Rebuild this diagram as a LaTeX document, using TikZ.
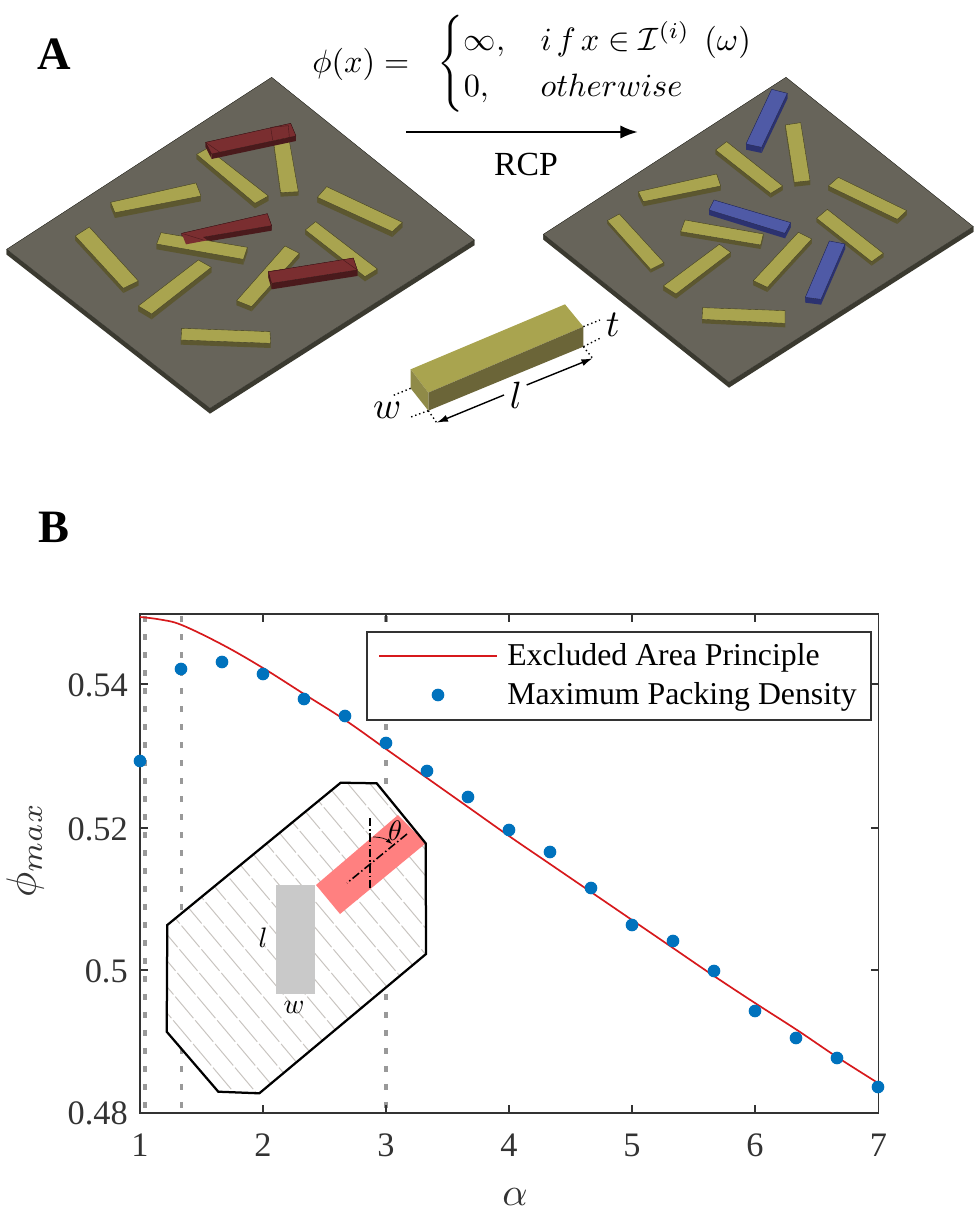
\documentclass[tikz,border=0pt]{standalone}
\usepackage{amsmath}
\usepackage{fontspec}
\setmainfont{Liberation Serif}
\usetikzlibrary{positioning, arrows.meta}
\definecolor{platetop}{HTML}{67645A}
\definecolor{plateside}{HTML}{3B3A30}
\definecolor{yellowtop}{HTML}{A9A44F}
\definecolor{yellowside}{HTML}{5C5730}
\definecolor{yellowend}{HTML}{8F8A48}
\definecolor{barside}{HTML}{6B6538}
\definecolor{redtop}{HTML}{7A2E30}
\definecolor{redside}{HTML}{4A1A1C}
\definecolor{bluetop}{HTML}{4F5AA6}
\definecolor{blueside}{HTML}{2C3270}
\definecolor{dotblue}{HTML}{0072BD}
\definecolor{fitred}{HTML}{D7191C}
\definecolor{axisgray}{HTML}{333333}
\definecolor{guidegray}{HTML}{999999}
\definecolor{hatchgray}{HTML}{C8C4C0}
\definecolor{rectgray}{HTML}{C9C9C9}
\definecolor{rectred}{HTML}{FF8080}
% colour name, four corners of the upper face, drop
\newcommand{\plank}[6]{
\coordinate (p1) at #2; \coordinate (p2) at #3; \coordinate (p3) at #4; \coordinate (p4) at #5;
\begin{scope}[shift={(0,#6)}]
\coordinate (q1) at #2; \coordinate (q2) at #3; \coordinate (q3) at #4; \coordinate (q4) at #5;
\end{scope}
\fill[#1side] (p1) -- (p2) -- (q2) -- (q1) -- cycle;
\fill[#1side] (p2) -- (p3) -- (q3) -- (q2) -- cycle;
\fill[#1side] (p3) -- (p4) -- (q4) -- (q3) -- cycle;
\fill[#1side] (p4) -- (p1) -- (q1) -- (q4) -- cycle;
\fill[#1top, draw=#1side!70!black, line width=0.25pt] (p1) -- (p2) -- (p3) -- (p4) -- cycle;
}
\tikzset{
ticklabel/.style={font=\fontsize{24.4}{28}\selectfont, text=axisgray, inner sep=0pt},
legendtext/.style={font=\fontsize{22.6}{26}\selectfont, inner sep=0pt, anchor=west},
panellabel/.style={font=\fontsize{33}{38}\selectfont\bfseries, inner sep=0pt},
mathlabel/.style={inner sep=0pt, scale=2},
sizelabel/.style={inner sep=0pt, scale=2.7},
overlapline/.style={redside, line width=0.3pt},
sizeline/.style={black, line width=1pt, dotted},
sizearrow/.style={-{Latex[length=8pt,width=5pt]}, black, line width=1pt},
guide/.style={guidegray, line width=2.3pt, dash pattern=on 4.3pt off 8.5pt},
tickmark/.style={axisgray, line width=0.8pt},
datadot/.style={circle, fill=dotblue, inner sep=0pt, minimum size=9pt}
}
\begin{document}
\begin{tikzpicture}[x=0.025cm, y=-0.025cm, >=latex]
\useasboundingbox (0,0) rectangle (975,1208);
\fill[white] (0,0) rectangle (975,1208);

\node (panelA) [panellabel] at (54,54) {A};
\node (panelB) [panellabel] at (54,527) {B};

% left plate
\begin{scope}[shift={(0,60)}, scale=1/3]
\plank{plate}{(815,52)}{(1423,540)}{(630,1045)}{(20,568)}{16}
\plank{yellow}{(332,427)}{(588,369)}{(603,408)}{(345,458)}{16}
\plank{yellow}{(820,240)}{(866,232)}{(895,395)}{(842,398)}{12}
\plank{yellow}{(590,283)}{(622,265)}{(805,408)}{(765,430)}{15}
\plank{red}{(617,247)}{(872,190)}{(888,228)}{(635,282)}{15}
\draw[overlapline] (812,202) -- (818,240);
\draw[overlapline] (812,202) -- (865,197) -- (868,232);
\draw[overlapline] (617,247) -- (660,277);
\plank{yellow}{(980,380)}{(1207,487)}{(1177,515)}{(952,412)}{16}
\plank{yellow}{(226,528)}{(268,501)}{(415,663)}{(370,685)}{14}
\plank{red}{(545,520)}{(802,461)}{(815,497)}{(560,540)}{15}
\plank{yellow}{(470,552)}{(483,518)}{(742,562)}{(730,598)}{16}
\fill[redtop] (545,520) -- (600,525) -- (622,541) -- (558,553) -- cycle;
\draw[overlapline] (545,520) -- (610,540);
\plank{yellow}{(415,738)}{(595,600)}{(634,622)}{(455,762)}{16}
\plank{yellow}{(710,722)}{(855,558)}{(898,580)}{(755,740)}{14}
\plank{yellow}{(916,510)}{(947,485)}{(1132,627)}{(1095,650)}{14}
\plank{red}{(805,635)}{(1060,594)}{(1072,630)}{(815,670)}{18}
\draw[overlapline] (805,635) -- (855,628);
\draw[overlapline] (1030,600) -- (1072,630);
\plank{yellow}{(545,805)}{(810,815)}{(812,850)}{(543,840)}{14}
\end{scope}

% right plate
\begin{scope}[shift={(530,70)}, scale=1/3]
\plank{plate}{(768,22)}{(1330,470)}{(597,937)}{(40,493)}{16}
\plank{blue}{(725,58)}{(772,70)}{(695,232)}{(648,222)}{17}
\plank{yellow}{(766,165)}{(812,158)}{(840,332)}{(793,337)}{13}
\plank{yellow}{(557,240)}{(590,215)}{(758,348)}{(722,370)}{13}
\plank{yellow}{(325,365)}{(560,312)}{(572,348)}{(340,395)}{14}
\plank{yellow}{(895,348)}{(925,322)}{(1130,422)}{(1102,448)}{14}
\plank{blue}{(552,390)}{(782,458)}{(765,490)}{(537,420)}{15}
\plank{yellow}{(452,485)}{(465,450)}{(700,492)}{(692,525)}{12}
\plank{yellow}{(232,452)}{(268,432)}{(402,578)}{(362,598)}{10}
\plank{yellow}{(400,648)}{(568,523)}{(602,547)}{(438,672)}{14}
\plank{yellow}{(670,632)}{(805,487)}{(845,507)}{(712,652)}{14}
\plank{yellow}{(860,445)}{(892,418)}{(1060,550)}{(1025,575)}{12}
\plank{blue}{(898,513)}{(945,522)}{(873,688)}{(826,682)}{16}
\plank{yellow}{(518,713)}{(765,722)}{(765,760)}{(516,748)}{12}
\end{scope}

% single plank with its sizes
\begin{scope}[shift={(300,0)}, scale=1/3]
\coordinate (topA) at (332,1108);
\coordinate (topB) at (795,913);
\coordinate (topC) at (850,980);
\coordinate (topD) at (385,1178);
\coordinate (lowC) at (850,1040);
\coordinate (lowD) at (385,1232);
\coordinate (lowA) at (332,1165);
\fill[yellowtop] (topA) -- (topB) -- (topC) -- (topD) -- cycle;
\fill[barside] (topD) -- (topC) -- (lowC) -- (lowD) -- cycle;
\fill[yellowend] (topA) -- (topD) -- (lowD) -- (lowA) -- cycle;
\node (tlabel) [sizelabel] at (938,975) {$t$};
\node (wlabel) [sizelabel] at (262,1230) {$w$};
\node (llabel) [sizelabel] at (648,1185) {$l$};
\coordinate (tend1) at (900,960);
\coordinate (tend2) at (900,1015);
\coordinate (wend1) at (278,1187);
\coordinate (wend2) at (330,1252);
\coordinate (lend1) at (410,1268);
\coordinate (lend2) at (878,1075);
\coordinate (lgap1) at (612,1185);
\coordinate (lgap2) at (680,1155);
\draw[sizeline] (topC) -- (tend1);
\draw[sizeline] (lowC) -- (tend2);
\draw[sizeline] (lowA) -- (wend1);
\draw[sizeline] (lowD) -- (wend2);
\draw[sizeline] (lowD) -- (lend1);
\draw[sizeline] (lowC) -- (lend2);
\draw[sizearrow] (lgap1) -- (lend1);
\draw[sizearrow] (lgap2) -- (lend2);
\end{scope}

% rule of the move
\node (phieq) [inner sep=0pt, scale=2.3] at (533.5,64) {$\phi(x)=\hspace{6pt}\begin{cases}\infty, &\hspace{1pt} i\hspace{1.5pt}f\hspace{1.5pt}x\in\mathcal{I}^{(i)}\hspace{4.5pt}(\omega)\\ 0, &\hspace{1pt} otherwise\end{cases}$};
\coordinate (movestart) at (406,132);
\coordinate (moveend) at (638,132);
\draw[-{Latex[length=12.5pt,width=9.5pt]}, line width=2pt] (movestart) -- (moveend);
\node (rcp) [font=\fontsize{24}{28}\selectfont, inner sep=0pt] at (526,164) {RCP};

% plot box
\foreach \xpos in {145,181.7,386}
\draw[guide] (\xpos,616) -- (\xpos,1110);
\draw[axisgray, line width=1.2pt] (140,614) rectangle (878.5,1112.7);
\foreach \xpos/\lab in {140/1,263/2,386/3,509/4,632/5,755/6,878.5/7}{
\draw[tickmark] (\xpos,1112.7) -- ++(0,-8);
\draw[tickmark] (\xpos,614) -- ++(0,8);
\node (xtick\lab) [ticklabel] at (\xpos,1145) {\lab};
}
\foreach \ypos/\lab in {684/0.54,828/0.52,970/0.5,1112.7/0.48}{
\draw[tickmark] (140,\ypos) -- ++(8,0);
\draw[tickmark] (878.5,\ypos) -- ++(-8,0);
\node (ytick\lab) [ticklabel, anchor=east] at (128,\ypos+1) {\lab};
}
\node (xlabel) [text=axisgray, inner sep=0pt, scale=2.8] at (515,1197) {$\alpha$};
\node (ylabel) [text=axisgray, inner sep=0pt, rotate=90, scale=3] at (25,850) {$\phi_{max}$};

% inset
\fill[white] (167.3,925) -- (340.7,782.7) -- (376.7,783.3) -- (425.7,843.3) -- (426,954) -- (259.3,1093.3) -- (218.3,1091.7) -- (166.7,1031.7) -- cycle;
\begin{scope}
\clip (167.3,925) -- (340.7,782.7) -- (376.7,783.3) -- (425.7,843.3) -- (426,954) -- (259.3,1093.3) -- (218.3,1091.7) -- (166.7,1031.7) -- cycle;
\foreach \k in {-200,-178,...,430}
\draw[hatchgray, line width=0.7pt, dash pattern=on 20pt off 2pt] (\k,760) -- ++(320,380);
\end{scope}
\fill[rectgray] (276,885) rectangle (315,994);
\fill[rectred] (316,885) -- (398,815) -- (425.7,843.3) -- (340,914) -- cycle;
\draw[black, line width=1.6pt] (167.3,925) -- (340.7,782.7) -- (376.7,783.3) -- (425.7,843.3) -- (426,954) -- (259.3,1093.3) -- (218.3,1091.7) -- (166.7,1031.7) -- cycle;
\coordinate (vtop) at (370,818);
\coordinate (vbot) at (370,891);
\coordinate (atop) at (407,834);
\coordinate (abot) at (347,883);
\coordinate (arcstart) at (373,837);
\coordinate (arcend) at (392,844);
\draw[black, line width=1.1pt, dash pattern=on 6pt off 2pt on 1pt off 2pt] (vtop) -- (vbot);
\draw[black, line width=1.1pt, dash pattern=on 6pt off 2pt on 1pt off 2pt] (atop) -- (abot);
\draw[->, black, line width=0.5pt] (arcstart) to[bend left=20] (arcend);
\node (thetalabel) [mathlabel] at (395,831) {$\theta$};
\node (insetl) [mathlabel] at (263,938) {$l$};
\node (insetw) [mathlabel] at (294,1007) {$w$};

% fit and data
\draw[fitred, line width=1.2pt] plot[smooth, tension=0.6] coordinates {(140,617) (160,619.5) (181.7,625) (223,645) (263,668) (304,694) (345,720) (386,749) (427,778) (468,807) (509,836) (550,864) (591,892) (632,920) (673,948) (714,976) (755,1003) (797,1030) (837,1057) (878,1083)};
\foreach \xpos/\ypos [count=\n] in {140/761,181/669,222/662,263/674,304/699,345/716,386/743,427/771,468/797,509/830,550/852,591/888,632/925,673/941,714/971,755/1011,796/1038,837/1058,878/1087}
\node (dot\n) [datadot] at (\xpos,\ypos) {};

% legend
\draw[axisgray, line width=1.2pt, fill=white] (367,632) rectangle (871,720);
\coordinate (legstart) at (379,656);
\coordinate (legend) at (497,656);
\draw[fitred, line width=1pt] (legstart) -- (legend);
\node (legdot) [datadot] at (438,695) {};
\node (legfit) [legendtext] at (507,658) {Excluded Area Principle};
\node (legdata) [legendtext] at (507,697) {Maximum Packing Density};
\end{tikzpicture}
\end{document}
